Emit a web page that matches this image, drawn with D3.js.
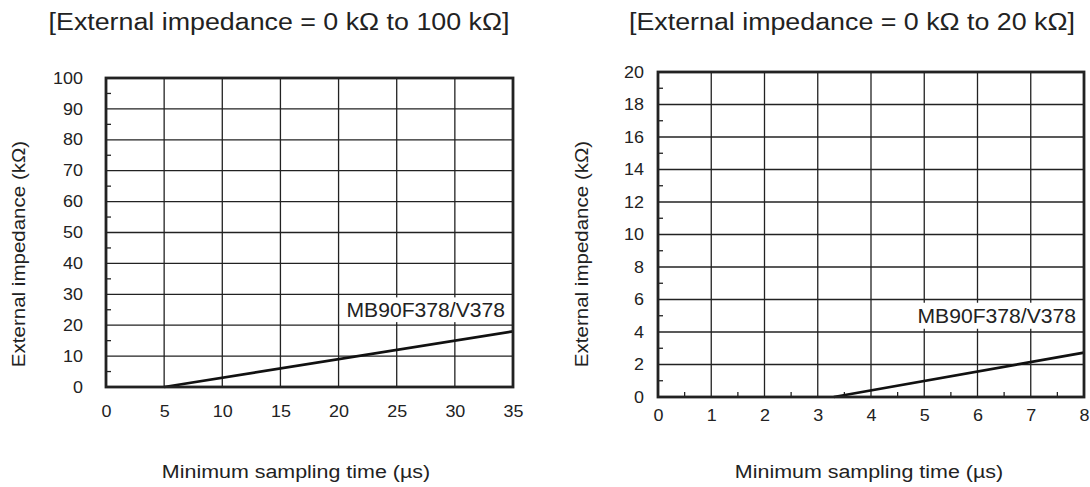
<!DOCTYPE html>
<html>
<head>
<meta charset="utf-8">
<script src="https://cdn.jsdelivr.net/npm/d3@7"></script>
<style>
  body { margin: 0; background: #fff; }
  text { font-family: "Liberation Sans", Arial, sans-serif; fill: #222; }
</style>
</head>
<body>
<div id="chart"></div>
<script>
// left panel: 0..100 kOhm
const leftTitle = "[External impedance = 0 k\u03A9 to 100 k\u03A9]";
const leftXTicks = [0, 5, 10, 15, 20, 25, 30, 35];
const leftYTicks = [0, 10, 20, 30, 40, 50, 60, 70, 80, 90, 100];
const leftLine = [[5, 0], [35, 18]];
const leftLabel = { text: "MB90F378/V378", y: 25 };

// right panel: 0..20 kOhm
const rightTitle = "[External impedance = 0 k\u03A9 to 20 k\u03A9]";
const rightXTicks = [0, 1, 2, 3, 4, 5, 6, 7, 8];
const rightYTicks = [0, 2, 4, 6, 8, 10, 12, 14, 16, 18, 20];
const rightLine = [[3.3, 0], [8, 2.73]];
const rightLabel = { text: "MB90F378/V378", y: 5 };

const xLabel = "Minimum sampling time (\u00B5s)";
const yLabel = "External impedance (k\u03A9)";

const width = 1090, height = 487;
const ink = "#222";

const svg = d3.select("#chart").append("svg")
  .attr("width", width)
  .attr("height", height);

// the source font is a bit wider than Liberation Sans, stretch glyphs
function stretch(sel, k) {
  sel.each(function () {
    const w = this.getComputedTextLength();
    d3.select(this).attr("textLength", w * k).attr("lengthAdjust", "spacingAndGlyphs");
  });
}

function panel(opt) {
  const x = d3.scaleLinear()
    .domain(d3.extent(opt.xTicks))
    .range([opt.left, opt.right]);
  const y = d3.scaleLinear()
    .domain(d3.extent(opt.yTicks))
    .range([opt.bottom, opt.top]);
  const g = svg.append("g");

  // title
  g.append("text")
    .attr("x", opt.titleX)
    .attr("y", 30)
    .attr("text-anchor", "middle")
    .style("font-size", "23px")
    .text(opt.title)
    .call(stretch, 1.165);

  // grid
  g.append("g").selectAll("line")
    .data(opt.xTicks.slice(1, -1))
    .join("line")
    .attr("x1", d => x(d)).attr("x2", d => x(d))
    .attr("y1", opt.top).attr("y2", opt.bottom)
    .attr("stroke", ink).attr("stroke-width", 1.3);
  g.append("g").selectAll("line")
    .data(opt.yTicks.slice(1, -1))
    .join("line")
    .attr("x1", opt.left).attr("x2", opt.right)
    .attr("y1", d => y(d)).attr("y2", d => y(d))
    .attr("stroke", ink).attr("stroke-width", 1.3);

  // minor ticks (inward)
  const yStep = opt.yTicks[1] - opt.yTicks[0];
  g.append("g").selectAll("line")
    .data(opt.yTicks.slice(0, -1).map(d => d + yStep / 2))
    .join("line")
    .attr("x1", opt.left).attr("x2", opt.left + 5)
    .attr("y1", d => y(d)).attr("y2", d => y(d))
    .attr("stroke", ink).attr("stroke-width", 1.3);
  if (opt.xMinor) {
    const xStep = opt.xTicks[1] - opt.xTicks[0];
    g.append("g").selectAll("line")
      .data(opt.xTicks.slice(0, -1).map(d => d + xStep / 2))
      .join("line")
      .attr("x1", d => x(d)).attr("x2", d => x(d))
      .attr("y1", opt.bottom).attr("y2", opt.bottom - 5)
      .attr("stroke", ink).attr("stroke-width", 1.3);
  }

  // series label on a white box over the grid
  const box = g.append("rect").attr("fill", "#fff");
  const lab = g.append("text")
    .attr("x", x.range()[1] - 8)
    .attr("y", y(opt.label.y) + 7)
    .attr("text-anchor", "end")
    .style("font-size", "20px")
    .text(opt.label.text)
    .call(stretch, 1.056);
  const bb = lab.node().getBBox();
  box.attr("x", bb.x - 3).attr("y", y(opt.label.y + yStep * 0.4))
    .attr("width", bb.width + 6)
    .attr("height", y(opt.label.y - yStep * 0.4) - y(opt.label.y + yStep * 0.4));

  // data line
  g.append("path")
    .datum(opt.line)
    .attr("d", d3.line().x(d => x(d[0])).y(d => y(d[1])))
    .attr("fill", "none")
    .attr("stroke", "#111")
    .attr("stroke-width", 2.6);

  // frame
  g.append("rect")
    .attr("x", opt.left).attr("y", opt.top)
    .attr("width", opt.right - opt.left)
    .attr("height", opt.bottom - opt.top)
    .attr("fill", "none")
    .attr("stroke", ink)
    .attr("stroke-width", 2.8);

  // tick labels
  const xAxis = d3.axisBottom(x).tickValues(opt.xTicks).tickSize(0).tickPadding(opt.xPad);
  const ax = g.append("g").attr("transform", `translate(0,${opt.bottom})`).call(xAxis);
  ax.select(".domain").remove();
  ax.selectAll("text").style("font-size", "16px").attr("fill", ink).call(stretch, 1.12);

  const yAxis = d3.axisLeft(y).tickValues(opt.yTicks).tickSize(0).tickPadding(opt.left - opt.yLabelEnd);
  const ay = g.append("g").attr("transform", `translate(${opt.left},0)`).call(yAxis);
  ay.select(".domain").remove();
  ay.selectAll("text").style("font-size", "16px").attr("fill", ink).call(stretch, 1.12);

  // axis titles
  g.append("text")
    .attr("transform", `translate(${opt.yTitleX},${opt.yTitleY}) rotate(-90)`)
    .attr("text-anchor", "middle")
    .style("font-size", "18px")
    .text(yLabel)
    .call(stretch, 1.14);

  g.append("text")
    .attr("x", opt.xTitleX)
    .attr("y", 478)
    .attr("text-anchor", "middle")
    .style("font-size", "18px")
    .text(xLabel)
    .call(stretch, 1.19);
}

panel({
  title: leftTitle, titleX: 279,
  xTicks: leftXTicks, yTicks: leftYTicks, line: leftLine, label: leftLabel,
  left: 106, right: 513, top: 78, bottom: 387,
  yLabelEnd: 83, yTitleX: 25, yTitleY: 254, xTitleX: 296, xPad: 19, xMinor: false
});

panel({
  title: rightTitle, titleX: 852,
  xTicks: rightXTicks, yTicks: rightYTicks, line: rightLine, label: rightLabel,
  left: 658, right: 1084, top: 72, bottom: 397,
  yLabelEnd: 644, yTitleX: 588, yTitleY: 254, xTitleX: 869, xPad: 13, xMinor: true
});
</script>
</body>
</html>
